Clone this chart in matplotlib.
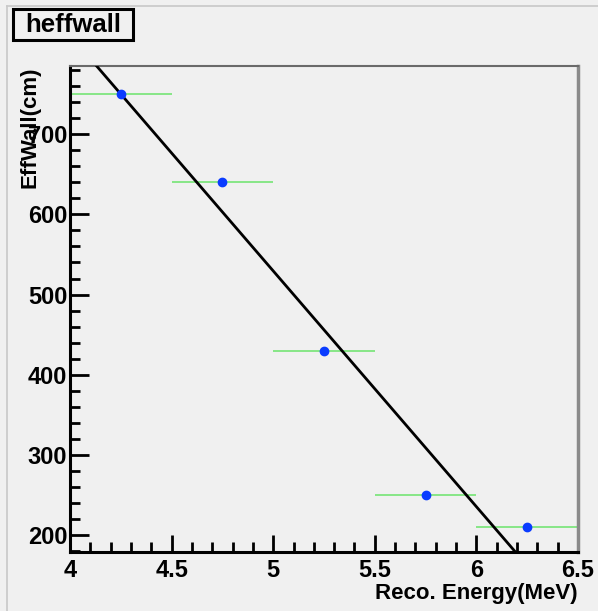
import numpy as np
import matplotlib
matplotlib.use("Agg")
import matplotlib.pyplot as plt
from matplotlib.lines import Line2D
from matplotlib.patches import Rectangle
from matplotlib.ticker import MultipleLocator

# data
energy = [4.25, 4.75, 5.25, 5.75, 6.25]
energy_err = [0.25, 0.25, 0.25, 0.25, 0.25]
eff_wall = [750, 640, 430, 250, 210]

plt.rcParams['font.family'] = ['Liberation Sans', 'DejaVu Sans']
plt.rcParams['font.weight'] = 'bold'

bg = '#f0f0f0'
fig = plt.figure(figsize=(5.98, 6.11), dpi=100, facecolor=bg)
W, H = 598, 611
ax = fig.add_axes([70 / W, 1 - 552 / H, 508 / W, (552 - 66) / H], facecolor=bg)

# error bars and points
ax.errorbar(energy, eff_wall, xerr=energy_err, fmt='none', ecolor='#7ee67e',
            elinewidth=1.3, capsize=0, zorder=2)
ax.plot(energy, eff_wall, 'o', color='#0a3cff', ms=6, zorder=4)

# linear fit
slope, icpt = np.polyfit(energy, eff_wall, 1)
xf = np.linspace(4.0, 6.5, 200)
ax.plot(xf, slope * xf + icpt, color='black', lw=2, zorder=3)

ax.set_xlim(4.0, 6.5)
ax.set_ylim(179, 785)

ax.xaxis.set_major_locator(MultipleLocator(0.5))
ax.xaxis.set_minor_locator(MultipleLocator(0.1))
ax.yaxis.set_major_locator(MultipleLocator(100))
ax.yaxis.set_minor_locator(MultipleLocator(20))
ax.set_xticks([4, 4.5, 5, 5.5, 6, 6.5])
ax.set_xticklabels(['4', '4.5', '5', '5.5', '6', '6.5'])

ax.tick_params(which='both', direction='in', top=False, right=False,
               width=2, colors='black', labelsize=17)
ax.tick_params(which='major', length=14)
ax.tick_params(axis='x', which='major', length=12, pad=5)
ax.tick_params(axis='y', which='major', pad=2)
ax.tick_params(which='minor', length=7)

for s in ['left', 'bottom']:
    ax.spines[s].set_linewidth(2.2)
    ax.spines[s].set_color('black')
ax.spines['top'].set_color('#6a6a6a')
ax.spines['top'].set_linewidth(1.5)
ax.spines['right'].set_color('#8a8a8a')
ax.spines['right'].set_linewidth(2.5)

ax.set_xlabel('Reco. Energy(MeV)', fontsize=16, fontweight='bold')
ax.xaxis.set_label_coords(1.0, -0.085)
ax.xaxis.label.set_horizontalalignment('right')
ax.xaxis.label.set_verticalalignment('center')
ax.set_ylabel('EffWall(cm)', fontsize=16, fontweight='bold')
ax.yaxis.set_label_coords(-0.078, 1.0)
ax.yaxis.label.set_verticalalignment('center')
ax.yaxis.label.set_horizontalalignment('right')

# title box
fig.add_artist(Rectangle((13 / W, 1 - 40 / H), 120 / W, 31 / H,
                         transform=fig.transFigure, fc=bg, ec='black', lw=2.2))
fig.text(73 / W, 1 - 25 / H, 'heffwall', ha='center', va='center',
         fontsize=18.5, fontweight='bold')

# canvas border
fig.add_artist(Line2D([7 / W, 7 / W], [0, 1 - 6 / H], color='#c8c8c8', lw=1.2))
fig.add_artist(Line2D([7 / W, 1], [1 - 6 / H, 1 - 6 / H], color='#c8c8c8', lw=1.2))

fig.savefig('out.png', dpi=100, facecolor=bg)
